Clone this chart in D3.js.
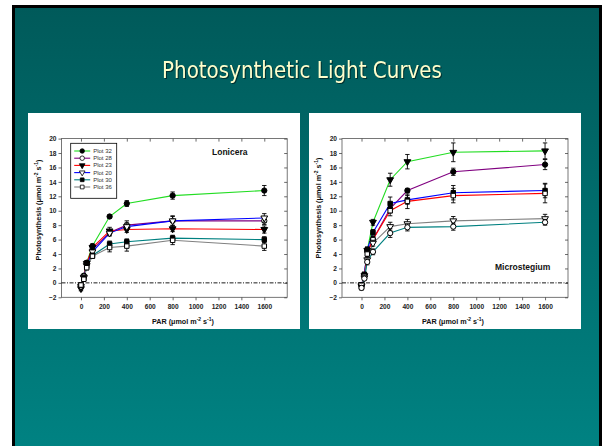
<!DOCTYPE html>
<html>
<head>
<meta charset="utf-8">
<script src="https://cdn.jsdelivr.net/npm/d3@7"></script>
<style>
  body { margin: 0; background: #fff; }
  svg { display: block; }
</style>
</head>
<body>
<div id="slide"></div>
<script>
// light levels (PAR) used for every curve
var par = [0, 25, 50, 100, 250, 400, 800, 1600];
var xTicks = [0, 200, 400, 600, 800, 1000, 1200, 1400, 1600];
var yTicks = [-2, 0, 2, 4, 6, 8, 10, 12, 14, 16, 18, 20];

// Lonicera plots
var lonPlots = ["Plot 32", "Plot 28", "Plot 23", "Plot 20", "Plot 30", "Plot 36"];
var lon32 = [-0.4, 1.0, 2.8, 5.1, 9.2, 11.0, 12.1, 12.8];
var lon28 = [-0.4, 0.9, 2.6, 4.6, 7.0, 8.0, 8.6, 8.6];
var lon23 = [-0.8, 0.8, 2.7, 4.9, 7.2, 7.4, 7.5, 7.4];
var lon20 = [-0.5, 0.7, 2.4, 4.3, 6.9, 7.8, 8.6, 9.0];
var lon30 = [-0.3, 0.6, 2.3, 3.8, 5.4, 5.7, 6.2, 6.0];
var lon36 = [-0.3, 0.5, 2.1, 3.7, 4.9, 5.1, 5.9, 5.1];
var lonErr32 = [0.3, 0.2, 0.3, 0.3, 0.2, 0.4, 0.5, 0.7];
var lonErr28 = [0.3, 0.2, 0.3, 0.3, 0.4, 0.6, 0.7, 0.5];
var lonErr23 = [0.3, 0.2, 0.3, 0.3, 0.5, 0.4, 0.4, 0.5];
var lonErr20 = [0.3, 0.2, 0.3, 0.3, 0.4, 0.5, 0.6, 0.6];
var lonErr30 = [0.3, 0.2, 0.3, 0.3, 0.4, 0.4, 0.4, 0.4];
var lonErr36 = [0.3, 0.2, 0.3, 0.3, 0.6, 0.7, 0.6, 0.6];

// Microstegium plots
var micA = [-0.5, 1.0, 4.5, 8.4, 14.3, 16.8, 18.1, 18.3];
var micB = [-0.4, 1.1, 4.4, 6.0, 10.3, 12.8, 15.4, 16.4];
var micC = [-0.3, 1.2, 4.6, 7.0, 11.0, 11.5, 12.5, 12.8];
var micD = [-0.6, 0.9, 4.0, 6.0, 10.0, 11.3, 12.1, 12.4];
var micE = [-0.3, 0.7, 3.2, 5.5, 7.8, 8.2, 8.6, 8.9];
var micF = [-0.7, 0.6, 2.9, 4.3, 6.9, 7.7, 7.8, 8.4];
var micErrA = [0.3, 0.3, 0.4, 0.4, 0.9, 1.0, 1.3, 1.1];
var micErrB = [0.3, 0.2, 0.4, 0.4, 0.6, 0.3, 0.5, 0.7];
var micErrC = [0.3, 0.2, 0.4, 0.4, 0.9, 0.6, 1.0, 1.0];
var micErrD = [0.3, 0.2, 0.4, 0.4, 0.7, 1.0, 1.0, 1.3];
var micErrE = [0.3, 0.2, 0.4, 0.4, 0.6, 0.6, 0.6, 0.6];
var micErrF = [0.3, 0.2, 0.4, 0.4, 0.6, 0.5, 0.5, 0.4];

var W = 602, H = 446;

var svg = d3.select("#slide").append("svg")
            .attr("width", W)
            .attr("height", H);

var defs = svg.append("defs");
var grad = defs.append("linearGradient")
               .attr("id", "bg").attr("x1", 0).attr("y1", 0).attr("x2", 0).attr("y2", 1);
grad.append("stop").attr("offset", "0%").attr("stop-color", "#005a5a");
grad.append("stop").attr("offset", "100%").attr("stop-color", "#008282");

// slide frame
svg.append("rect").attr("x", 12).attr("y", 5).attr("width", 590).attr("height", H - 5).attr("fill", "#000");
svg.append("rect").attr("x", 15).attr("y", 8).attr("width", 584).attr("height", H - 8).attr("fill", "url(#bg)");

svg.append("text")
   .attr("x", 302).attr("y", 78)
   .attr("text-anchor", "middle")
   .attr("textLength", 280)
   .attr("lengthAdjust", "spacingAndGlyphs")
   .style("font-family", "'DejaVu Sans Condensed', 'Liberation Sans Narrow', sans-serif")
   .style("font-size", "23px")
   .attr("fill", "#ffffcc")
   .style("filter", "drop-shadow(1px 1px 0px rgba(0,0,0,0.5))")
   .text("Photosynthetic Light Curves");

function addUnits(sel, lead) {
  sel.append("tspan").text(lead + "(\u03bcmol m");
  sel.append("tspan").attr("dy", -3).style("font-size", "5px").text("-2");
  sel.append("tspan").attr("dy", 3).text(" s");
  sel.append("tspan").attr("dy", -3).style("font-size", "5px").text("-1");
  sel.append("tspan").attr("dy", 3).text(")");
}

function drawPanel(cfg) {
  var g = svg.append("g");

  g.append("rect")
    .attr("x", cfg.box[0]).attr("y", cfg.box[1])
    .attr("width", cfg.box[2]).attr("height", cfg.box[3])
    .attr("fill", "#fff");

  var x = d3.scaleLinear().domain([-170, 1800]).range(cfg.xr);
  var y = d3.scaleLinear().domain([-2, 20]).range([297.3, 138.6]);

  // frame
  g.append("rect")
    .attr("x", x(-170)).attr("y", y(20))
    .attr("width", x(1800) - x(-170)).attr("height", y(-2) - y(20))
    .attr("fill", "none").attr("stroke", "#555").attr("stroke-width", 0.8);

  g.append("g")
    .attr("transform", "translate(" + x(-170) + ",0)")
    .call(d3.axisLeft(y).tickValues(yTicks).tickSize(3).tickPadding(2).tickFormat(d3.format("d")));
  g.append("g")
    .attr("transform", "translate(0," + y(-2) + ")")
    .call(d3.axisBottom(x).tickValues(xTicks).tickSize(3).tickPadding(4).tickFormat(d3.format("d")));
  // inner ticks on top and right
  g.append("g")
    .attr("transform", "translate(0," + y(20) + ")")
    .call(d3.axisBottom(x).tickValues(xTicks).tickSize(3).tickFormat(""));
  g.append("g")
    .attr("transform", "translate(" + x(1800) + ",0)")
    .call(d3.axisLeft(y).tickValues(yTicks).tickSize(3).tickFormat(""));

  g.selectAll(".domain").remove();
  g.selectAll(".tick line").attr("stroke", "#444").attr("stroke-width", 0.8);
  g.selectAll(".tick text")
    .style("font-family", "'Liberation Sans', Arial, sans-serif")
    .style("font-size", "6.6px")
    .style("font-weight", "bold")
    .attr("fill", "#222");

  // zero line
  g.append("line")
    .attr("x1", x(-170)).attr("x2", x(1800))
    .attr("y1", y(0)).attr("y2", y(0))
    .attr("stroke", "#000").attr("stroke-width", 0.9)
    .attr("stroke-dasharray", "4,1.5,1,1.5");

  var line = d3.line()
               .x(function(d) { return x(d[0]); })
               .y(function(d) { return y(d[1]); });

  cfg.series.forEach(function(s) {
    var pts = par.map(function(p, i) { return [p, s.values[i], s.err[i]]; });
    g.append("path")
      .datum(pts)
      .attr("d", line)
      .attr("fill", "none")
      .attr("stroke", s.color)
      .attr("stroke-width", 1.1);
  });

  cfg.series.forEach(function(s) {
    var pts = par.map(function(p, i) { return [p, s.values[i], s.err[i]]; });
    var eb = g.append("g");
    pts.forEach(function(d) {
      var cx = x(d[0]), y1 = y(d[1] - d[2]), y2 = y(d[1] + d[2]);
      eb.append("line").attr("x1", cx).attr("x2", cx).attr("y1", y1).attr("y2", y2);
      eb.append("line").attr("x1", cx - 2.2).attr("x2", cx + 2.2).attr("y1", y1).attr("y2", y1);
      eb.append("line").attr("x1", cx - 2.2).attr("x2", cx + 2.2).attr("y1", y2).attr("y2", y2);
    });
    eb.selectAll("line").attr("stroke", "#000").attr("stroke-width", 0.9);

    g.selectAll(null)
      .data(pts)
      .enter()
      .append("path")
      .attr("transform", function(d) {
        return "translate(" + x(d[0]) + "," + y(d[1]) + ")" + (s.down ? " rotate(180)" : "");
      })
      .attr("d", d3.symbol().type(s.shape).size(s.shape === d3.symbolCircle ? 22 : 20))
      .attr("fill", s.filled ? "#000" : "#fff")
      .attr("stroke", "#000")
      .attr("stroke-width", 1);
  });

  // axis titles
  var xl = g.append("text")
    .attr("x", cfg.xLabel[0]).attr("y", cfg.xLabel[1])
    .attr("text-anchor", "middle")
    .style("font-family", "'Liberation Sans', Arial, sans-serif")
    .style("font-size", "7.2px").style("font-weight", "bold")
    .attr("fill", "#111");
  addUnits(xl, "PAR ");

  var yl = g.append("text")
    .attr("transform", "translate(" + cfg.yLabel[0] + "," + cfg.yLabel[1] + ") rotate(-90)")
    .attr("text-anchor", "middle")
    .style("font-family", "'Liberation Sans', Arial, sans-serif")
    .style("font-size", "7.2px").style("font-weight", "bold")
    .attr("fill", "#111");
  addUnits(yl, "Photosynthesis ");

  g.append("text")
    .attr("x", cfg.name[0]).attr("y", cfg.name[1])
    .style("font-family", "'Liberation Sans', Arial, sans-serif")
    .style("font-size", "8.5px").style("font-weight", "bold")
    .attr("fill", "#111")
    .text(cfg.name[2]);

  if (cfg.legend) {
    var lg = g.append("g").attr("transform", "translate(70.7,143.3)");
    lg.append("rect").attr("width", 46).attr("height", 55)
      .attr("fill", "#fff").attr("stroke", "#000").attr("stroke-width", 0.8);
    cfg.series.forEach(function(s, i) {
      var ly = 7.7 + i * 7.2;
      lg.append("line").attr("x1", 3.5).attr("x2", 19.5).attr("y1", ly).attr("y2", ly)
        .attr("stroke", s.color).attr("stroke-width", 1.1);
      lg.append("path")
        .attr("transform", "translate(11.5," + ly + ")" + (s.down ? " rotate(180)" : ""))
        .attr("d", d3.symbol().type(s.shape).size(s.shape === d3.symbolCircle ? 16 : 14))
        .attr("fill", s.filled ? "#000" : "#fff")
        .attr("stroke", "#000").attr("stroke-width", 0.8);
      lg.append("text").attr("x", 22.5).attr("y", ly + 2.1)
        .style("font-family", "'Liberation Sans', Arial, sans-serif")
        .style("font-size", "6px")
        .attr("fill", "#333")
        .text(lonPlots[i]);
    });
  }
}

drawPanel({
  box: [28, 113, 272, 216],
  xr: [61.5, 287.2],
  xLabel: [183, 324],
  yLabel: [41, 210],
  name: [212, 155, "Lonicera"],
  legend: true,
  series: [
    {values: lon32, err: lonErr32, color: "#22dd22", shape: d3.symbolCircle, filled: true},
    {values: lon28, err: lonErr28, color: "#800080", shape: d3.symbolCircle, filled: false},
    {values: lon23, err: lonErr23, color: "#ff0000", shape: d3.symbolTriangle, filled: true, down: true},
    {values: lon20, err: lonErr20, color: "#0000ff", shape: d3.symbolTriangle, filled: false, down: true},
    {values: lon30, err: lonErr30, color: "#008080", shape: d3.symbolSquare, filled: true},
    {values: lon36, err: lonErr36, color: "#808080", shape: d3.symbolSquare, filled: false}
  ]
});

drawPanel({
  box: [309, 113, 272, 216],
  xr: [342, 568],
  xLabel: [453, 324],
  yLabel: [321, 208],
  name: [495, 270, "Microstegium"],
  legend: false,
  series: [
    {values: micA, err: micErrA, color: "#22dd22", shape: d3.symbolTriangle, filled: true, down: true},
    {values: micB, err: micErrB, color: "#800080", shape: d3.symbolCircle, filled: true},
    {values: micC, err: micErrC, color: "#0000ff", shape: d3.symbolSquare, filled: true},
    {values: micD, err: micErrD, color: "#ff0000", shape: d3.symbolSquare, filled: false},
    {values: micE, err: micErrE, color: "#808080", shape: d3.symbolTriangle, filled: false, down: true},
    {values: micF, err: micErrF, color: "#008080", shape: d3.symbolCircle, filled: false}
  ]
});
</script>
</body>
</html>
